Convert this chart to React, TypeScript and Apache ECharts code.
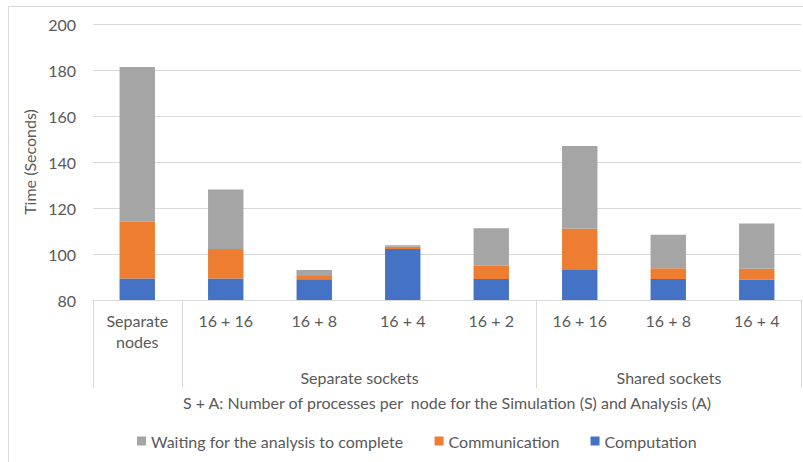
import React, { useEffect, useRef } from "react";
import * as echarts from "echarts";

const categories = ["Separate\nnodes", "16 + 16", "16 + 8", "16 + 4", "16 + 2", "16 + 16", "16 + 8", "16 + 4"];
const computation = [89.3, 89.3, 89.0, 102.2, 89.1, 93.0, 89.1, 88.8];
const communication = [24.7, 12.9, 1.4, 1.0, 5.8, 18.0, 4.7, 4.8];
const waiting = [67.3, 25.8, 2.6, 0.6, 16.3, 36.0, 14.6, 19.7];
const groups = [
  { name: "", start: 0, end: 1 },
  { name: "Separate sockets", start: 1, end: 5 },
  { name: "Shared sockets", start: 5, end: 8 },
];
const seriesNames = ["Waiting for the analysis to complete", "Communication", "Computation"];

const FONT = "Lato, 'Open Sans', sans-serif";
const TXT = "#595959";
const LINE = "#d9d9d9";

export default function App() {
  const ref = useRef<HTMLDivElement>(null);
  useEffect(() => {
    document.body.style.margin = "0";
    const chart = echarts.init(ref.current!, null, { renderer: "svg" });
    chart.setOption({
      animation: false,
      textStyle: { fontFamily: FONT, color: TXT },
      grid: { left: 93, right: 2, top: 24, bottom: 162, containLabel: false },
      legend: {
        data: seriesNames,
        left: 132,
        top: 428,
        itemWidth: 9,
        itemHeight: 9,
        itemGap: 31,
        icon: "rect",
        textStyle: { fontFamily: FONT, color: TXT, fontSize: 16 },
      },
      xAxis: {
        type: "category",
        data: categories,
        name: "S + A: Number of processes per  node for the Simulation (S) and Analysis (A)",
        nameLocation: "middle",
        nameGap: 94,
        nameTextStyle: { fontFamily: FONT, color: TXT, fontSize: 16 },
        axisLine: { lineStyle: { color: LINE } },
        axisTick: { show: false },
        axisLabel: { fontFamily: FONT, color: TXT, fontSize: 16, lineHeight: 21, margin: 10, interval: 0 },
      },
      yAxis: {
        type: "value",
        min: 80,
        max: 200,
        interval: 20,
        name: "Time (Seconds)",
        nameLocation: "middle",
        nameGap: 46,
        nameRotate: 90,
        nameTextStyle: { fontFamily: FONT, color: TXT, fontSize: 16 },
        axisLine: { show: false },
        axisTick: { show: false },
        axisLabel: { fontFamily: FONT, color: TXT, fontSize: 16, margin: 17 },
        splitLine: { lineStyle: { color: LINE, width: 1 } },
      },
      series: [
        { name: "Computation", type: "bar", stack: "t", barWidth: "40%", data: computation, itemStyle: { color: "#4472C4" } },
        { name: "Communication", type: "bar", stack: "t", data: communication, itemStyle: { color: "#ED7D31" } },
        { name: "Waiting for the analysis to complete", type: "bar", stack: "t", data: waiting, itemStyle: { color: "#A5A5A5" } },
      ],
    });
    const x0 = chart.convertToPixel({ xAxisIndex: 0 }, 0) as number;
    const x1 = chart.convertToPixel({ xAxisIndex: 0 }, 1) as number;
    const band = x1 - x0;
    const yBase = chart.convertToPixel({ yAxisIndex: 0 }, 80) as number;
    const bx = (i: number) => Math.round(x0 + (i - 0.5) * band) + 0.5;
    const bounds = new Set<number>();
    groups.forEach((g) => { bounds.add(g.start); bounds.add(g.end); });
    const elements: any[] = [
      { type: "rect", shape: { x: 8.5, y: 6.5, width: 820, height: 470 }, style: { fill: "none", stroke: LINE, lineWidth: 1 }, silent: true },
    ];
    bounds.forEach((i) => {
      const x = Math.min(bx(i), 801.5);
      elements.push({ type: "line", shape: { x1: x, y1: yBase, x2: x, y2: yBase + 88 }, style: { stroke: LINE, lineWidth: 1 }, silent: true });
    });
    groups.forEach((g) => {
      if (!g.name) return;
      const cx = (bx(g.start) + bx(g.end)) / 2;
      elements.push({
        type: "text",
        x: cx,
        y: yBase + 77,
        style: { text: g.name, fill: TXT, font: `16px ${FONT}`, align: "center", verticalAlign: "middle" },
        silent: true,
      });
    });
    chart.setOption({ graphic: elements });
    return () => chart.dispose();
  }, []);
  return <div ref={ref} style={{ width: 803, height: 462 }} />;
}
